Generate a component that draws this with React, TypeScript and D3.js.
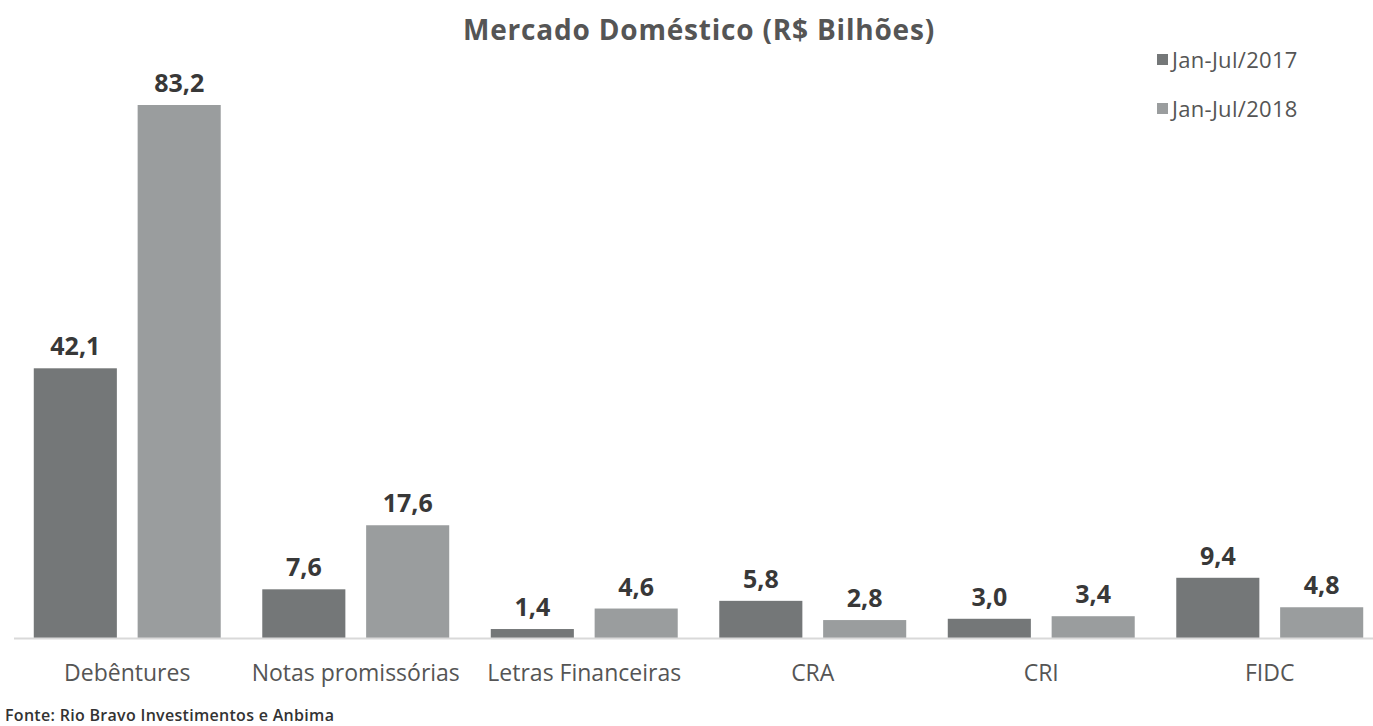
import React from "react";
import * as d3 from "d3";

const categories = ["Debêntures", "Notas promissórias", "Letras Financeiras", "CRA", "CRI", "FIDC"];
const seriesNames = ["Jan-Jul/2017", "Jan-Jul/2018"];
const values2017 = [42.1, 7.6, 1.4, 5.8, 3.0, 9.4];
const values2018 = [83.2, 17.6, 4.6, 2.8, 3.4, 4.8];
const colors = ["#747778", "#9a9d9e"];

const W = 1373;
const H = 726;
const baseY = 638;
const FONT = "'Open Sans', Lato, sans-serif";

export default function App() {
  const x0 = d3.scaleBand<string>().domain(categories).range([13, 1384]).padding(0);
  const x1 = d3.scaleBand<string>().domain(seriesNames).range([0, x0.bandwidth()]).paddingInner(0.2).paddingOuter(0.2);
  const y = d3.scaleLinear().domain([0, 83.2]).range([baseY, 105]);
  const series = [values2017, values2018];
  const fmt = (v: number) => v.toFixed(1).replace(".", ",");

  return (
    <svg width={W} height={H} style={{ position: "absolute", left: 0, top: 0, background: "#fff" }}>
      <text x={699} y={40} textAnchor="middle" fontFamily={FONT} fontWeight={700} fontSize={28} letterSpacing={0.8} fill="#555">
        Mercado Doméstico (R$ Bilhões)
      </text>
      {categories.map((c, i) => (
        <g key={c} transform={`translate(${x0(c)},0)`}>
          {seriesNames.map((s, j) => {
            const v = series[j][i];
            const bx = x1(s)!;
            const bw = x1.bandwidth();
            return (
              <g key={s}>
                <rect x={bx} y={y(v)} width={bw} height={baseY - y(v)} fill={colors[j]} />
                <text x={bx + bw / 2} y={y(v) - 13} textAnchor="middle" fontFamily={FONT} fontWeight={700} fontSize={25} fill="#383838">
                  {fmt(v)}
                </text>
              </g>
            );
          })}
          <text x={x0.bandwidth() / 2} y={681} textAnchor="middle" fontFamily={FONT} fontSize={23} fill="#555">
            {c}
          </text>
        </g>
      ))}
      <line x1={14} x2={W} y1={baseY + 0.5} y2={baseY + 0.5} stroke="#d9d9d9" strokeWidth={2} />
      {seriesNames.map((s, j) => (
        <g key={s} transform={`translate(1157,${60 + j * 49})`}>
          <rect x={0} y={-6} width={11} height={11} fill={colors[j]} />
          <text x={15} y={8} fontFamily={FONT} fontSize={22} letterSpacing={0.3} fill="#555">{s}</text>
        </g>
      ))}
      <text x={5} y={721} fontFamily={FONT} fontWeight={600} fontSize={16} letterSpacing={0.3} fill="#333">
        Fonte: Rio Bravo Investimentos e Anbima
      </text>
    </svg>
  );
}
